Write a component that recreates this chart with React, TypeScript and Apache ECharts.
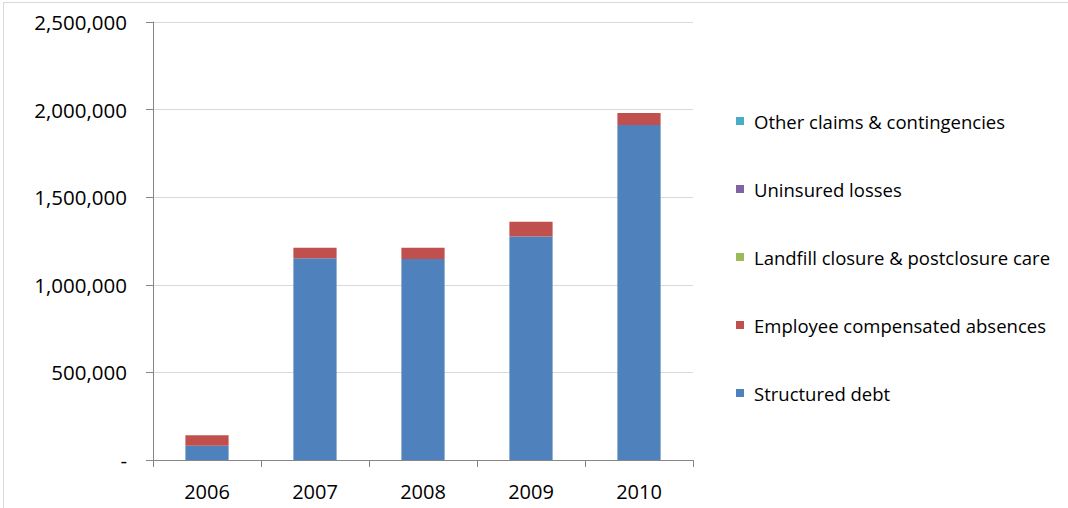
import React, { useEffect, useRef } from "react";
import * as echarts from "echarts";

const years = ["2006", "2007", "2008", "2009", "2010"];
const structuredDebt = [82000, 1152000, 1147000, 1276000, 1912000];
const employeeAbsences = [59000, 59000, 64000, 84000, 69000];
const landfill = [0, 0, 0, 0, 0];
const uninsured = [0, 0, 0, 0, 0];
const otherClaims = [0, 0, 0, 0, 0];

const seriesNames = [
  "Structured debt",
  "Employee compensated absences",
  "Landfill closure & postclosure care",
  "Uninsured losses",
  "Other claims & contingencies",
];
const seriesColors = ["#4F81BD", "#C0504D", "#9BBB59", "#8064A2", "#4BACC6"];
const seriesData = [structuredDebt, employeeAbsences, landfill, uninsured, otherClaims];

const FONT = "'Open Sans', sans-serif";

export default function App() {
  const ref = useRef<HTMLDivElement>(null);
  useEffect(() => {
    if (!ref.current) return;
    const chart = echarts.init(ref.current, undefined, { renderer: "svg" });
    chart.setOption({
      animation: false,
      backgroundColor: "#ffffff",
      grid: { left: 153, right: 375, top: 22, bottom: 48, containLabel: false },
      graphic: [
        { type: "line", shape: { x1: 3, y1: 2.5, x2: 1068, y2: 2.5 }, style: { stroke: "#d9d9d9", lineWidth: 1 } },
        { type: "line", shape: { x1: 3.5, y1: 2, x2: 3.5, y2: 508 }, style: { stroke: "#d9d9d9", lineWidth: 1 } },
      ],
      legend: {
        orient: "vertical",
        left: 736,
        top: 110,
        padding: 0,
        itemWidth: 8,
        itemHeight: 8,
        itemGap: 46,
        icon: "rect",
        data: seriesNames.slice().reverse(),
        textStyle: { fontFamily: FONT, fontSize: 18.5, color: "#000", lineHeight: 22, padding: [0, 0, 0, 5] },
      },
      xAxis: {
        type: "category",
        data: years,
        axisLine: { lineStyle: { color: "#868686" } },
        axisTick: { show: true, length: 7, lineStyle: { color: "#868686" } },
        axisLabel: { fontFamily: FONT, fontSize: 20, color: "#000", margin: 21 },
      },
      yAxis: {
        type: "value",
        min: 0,
        max: 2500000,
        interval: 500000,
        axisLine: { show: true, lineStyle: { color: "#868686" } },
        axisTick: { show: true, length: 7, lineStyle: { color: "#868686" } },
        splitLine: { lineStyle: { color: "#d9d9d9" } },
        axisLabel: {
          fontFamily: FONT,
          fontSize: 20.5,
          color: "#000",
          margin: 26,
          formatter: (v: number) => (v === 0 ? "-" : v.toLocaleString("en-US")),
        },
      },
      series: seriesNames.map((name, i) => ({
        name,
        type: "bar",
        stack: "total",
        barWidth: "40%",
        data: seriesData[i],
        itemStyle: { color: seriesColors[i] },
      })),
    });
    return () => chart.dispose();
  }, []);
  return <div ref={ref} style={{ position: "fixed", left: 0, top: 0, width: 1068, height: 508 }} />;
}
